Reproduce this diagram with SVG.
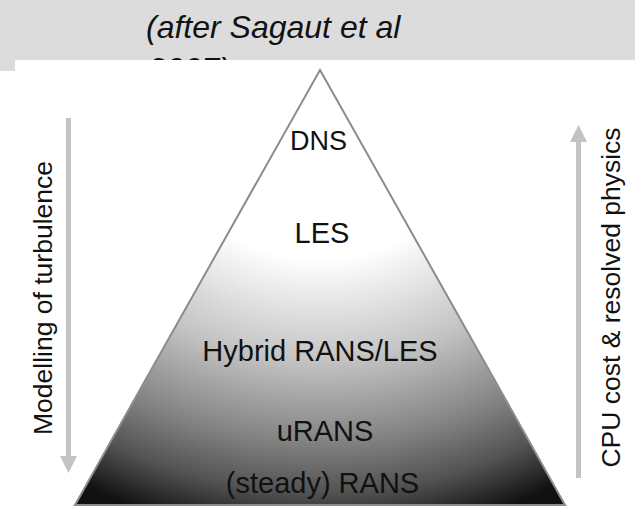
<svg xmlns="http://www.w3.org/2000/svg" width="635" height="507" viewBox="0 0 635 507">
<style>
.lbl{font-family:"Liberation Sans",Arial,sans-serif;fill:#111;text-anchor:middle}
.side{font-family:"Liberation Sans",Arial,sans-serif;fill:#111;font-size:26.5px;text-anchor:middle}
.arrow{stroke:#c3c3c3;stroke-width:5;fill:none}
</style>
<defs>
<radialGradient id="pyr" gradientUnits="userSpaceOnUse" cx="320" cy="130" r="410" gradientTransform="translate(320 130) scale(1.15 1) translate(-320 -130)">
<stop offset="0" stop-color="#ffffff"/>
<stop offset="0.315" stop-color="#ffffff"/>
<stop offset="0.56" stop-color="#c4c4c4"/>
<stop offset="0.76" stop-color="#838383"/>
<stop offset="0.885" stop-color="#525252"/>
<stop offset="1.0" stop-color="#111111"/>
</radialGradient>
<marker id="head" viewBox="0 0 10 10" refX="0" refY="5" markerWidth="3.4" markerHeight="5" markerUnits="strokeWidth" orient="auto">
<path d="M0,0 L10,5 L0,10 Z" fill="#c3c3c3"/>
</marker>
</defs>
<rect x="0" y="0" width="635" height="71" fill="#dcdcdc"/>
<text x="146" y="38" style="font-family:'Liberation Sans',Arial,sans-serif;font-style:italic;font-size:32px;fill:#111">(after Sagaut et al</text>
<text x="148" y="80" style="font-family:'Liberation Sans',Arial,sans-serif;font-style:italic;font-size:32px;fill:#111">2007)</text>
<rect x="15" y="60" width="620" height="447" fill="#ffffff"/>
<g id="pyramid">
<polygon points="320,70 565,505 75,505" fill="url(#pyr)"/>
<polygon points="320,70 565,505 75,505" fill="none" stroke="#8c8c8c" stroke-width="2"/>
</g>
<g id="dns"><text class="lbl" x="318.5" y="150" font-size="27">DNS</text></g>
<g id="les"><text class="lbl" x="322" y="243" font-size="29">LES</text></g>
<g id="hybrid"><text class="lbl" x="320" y="361" font-size="29">Hybrid RANS/LES</text></g>
<g id="urans"><text class="lbl" x="325" y="441" font-size="29">uRANS</text></g>
<g id="rans"><text class="lbl" x="322.5" y="493" font-size="29">(steady) RANS</text></g>
<g id="connectors">
<line class="arrow" x1="68.5" y1="118" x2="68.5" y2="456" marker-end="url(#head)"/>
<line class="arrow" x1="578.5" y1="478" x2="578.5" y2="142" marker-end="url(#head)"/>
</g>
<g id="modelling"><text class="side" transform="translate(52 298) rotate(-90)">Modelling of turbulence</text></g>
<g id="cpu"><text class="side" font-size="27" transform="translate(620 297.5) rotate(-90)">CPU cost &amp; resolved physics</text></g>
</svg>
